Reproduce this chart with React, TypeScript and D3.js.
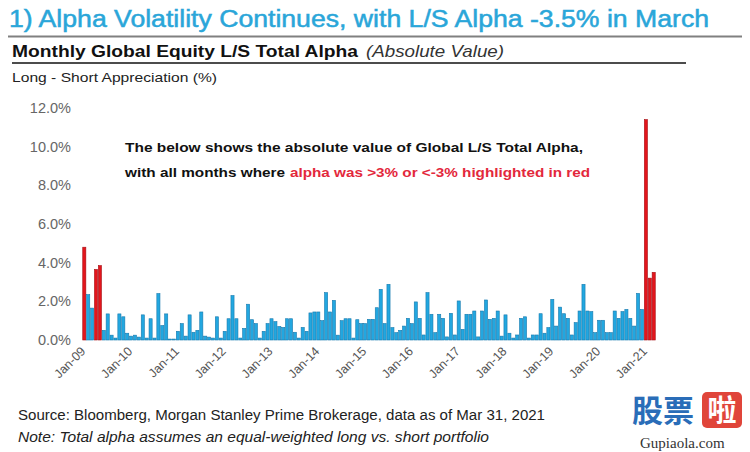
import React from "react";
import * as d3 from "d3";

const values: number[] = [
  4.8, 2.35, 1.65, 3.65, 3.85, 0.5, 1.35, 0.25, 0.1, 1.35, 1.2, 0.35,
  0.2, 0.25, 0.15, 1.3, 0.1, 1.1, 0.1, 2.4, 0.75, 1.35, 0.05, 0.05,
  0.45, 0.85, 0.2, 1.3, 0.4, 0.5, 1.45, 0.2, 0.15, 0.1, 1.2, 0.1,
  0.45, 1.1, 2.3, 1.1, 0.1, 0.6, 1.85, 1.05, 0.85, 0.1, 0.45, 0.85,
  1.1, 0.95, 0.7, 0.65, 1.1, 1.1, 0.4, 0.1, 0.65, 0.45, 1.4, 1.45,
  1.45, 1.0, 2.45, 1.45, 2.05, 0.25, 1.0, 1.1, 1.1, 0.1, 1.05, 0.85,
  0.85, 1.07, 1.07, 1.67, 2.62, 0.85, 2.88, 0.64, 0.38, 0.5, 0.72, 1.12,
  0.85, 1.97, 1.12, 0.26, 2.45, 1.33, 0.38, 1.33, 1.12, 0.16, 1.38, 0.26,
  2.02, 0.55, 1.33, 1.33, 1.5, 0.16, 1.5, 2.07, 1.07, 1.12, 1.5, 0.2,
  1.3, 0.35, 0.1, 0.26, 1.12, 1.2, 0.1, 0.26, 0.26, 1.36, 0.35, 0.64,
  2.1, 0.72, 1.7, 1.36, 1.12, 0.26, 0.9, 1.5, 2.88, 1.5, 1.47, 0.38,
  1.02, 1.02, 0.38, 0.38, 1.5, 1.12, 1.47, 1.58, 1.12, 0.72, 2.41, 1.58,
  11.4, 3.2, 3.5,
];

const yTicks: number[] = [0, 2, 4, 6, 8, 10, 12];
const xTickLabels: string[] = [
  "Jan-09", "Jan-10", "Jan-11", "Jan-12", "Jan-13", "Jan-14", "Jan-15",
  "Jan-16", "Jan-17", "Jan-18", "Jan-19", "Jan-20", "Jan-21",
];
const threshold = 3;

const FONT = "'Liberation Sans', Arial, Helvetica, sans-serif";

export default function App() {
  const x = d3
    .scaleBand<number>()
    .domain(values.map((_, i) => i))
    .range([82.35, 655.65])
    .paddingInner(0.2)
    .paddingOuter(0.1);
  const y = d3.scaleLinear().domain([0, 12]).range([340, 108]);

  return (
    <svg
      width={750}
      height={452}
      style={{ position: "absolute", left: 0, top: 0, background: "#fff" }}
      fontFamily={FONT}
    >
      <rect x={0} y={0} width={750} height={452} fill="#fff" />
      <text x={9} y={27} fontSize={23} fill="#2aa6d9" stroke="#2aa6d9" strokeWidth={0.5} textLength={700} lengthAdjust="spacingAndGlyphs">
        1) Alpha Volatility Continues, with L/S Alpha -3.5% in March
      </text>
      <line x1={8} x2={742} y1={36.5} y2={36.5} stroke="#808080" strokeWidth={2} />
      <text y={57} fontSize={16.5} fill="#111">
        <tspan x={12} fontWeight="bold" textLength={346} lengthAdjust="spacingAndGlyphs">Monthly Global Equity L/S Total Alpha</tspan>
        <tspan x={366} fontStyle="italic" fill="#333" textLength={138} lengthAdjust="spacingAndGlyphs">(Absolute Value)</tspan>
      </text>
      <line x1={12} x2={686} y1={63} y2={63} stroke="#111" strokeWidth={1.5} />
      <text x={12} y={82} fontSize={13.5} fill="#222" textLength={205} lengthAdjust="spacingAndGlyphs">
        Long - Short Appreciation (%)
      </text>

      {yTicks.map((t) => (
        <text
          key={t}
          x={71}
          y={y(t)}
          dy="0.35em"
          textAnchor="end"
          fontSize={14.5}
          fill="#666"
        >
          {t.toFixed(1)}%
        </text>
      ))}

      {values.map((v, i) => {
        const red = Math.abs(v) > threshold;
        return (
          <rect
            key={i}
            x={x(i)!}
            y={y(v)}
            width={x.bandwidth()}
            height={y(0) - y(v)}
            fill={red ? "#e3151c" : "#22a7e0"}
            stroke={red ? "#a50f14" : "#1779ad"}
            strokeWidth={0.6}
          />
        );
      })}

      {xTickLabels.map((lab, k) => {
        const cx = x(k * 12)! + x.bandwidth() / 2;
        return (
          <text
            key={lab}
            transform={`translate(${cx + 2},${352}) rotate(-45)`}
            textAnchor="end"
            fontSize={12.5}
            fill="#555"
          >
            {lab}
          </text>
        );
      })}

      <text x={125} y={152} fontSize={13.5} fontWeight="bold" fill="#111" textLength={458} lengthAdjust="spacingAndGlyphs">
        The below shows the absolute value of Global L/S Total Alpha,
      </text>
      <text y={177} fontSize={13.5} fontWeight="bold" fill="#111">
        <tspan x={125} textLength={160} lengthAdjust="spacingAndGlyphs">with all months where</tspan>
        <tspan x={290} fill="#e3283c" textLength={300} lengthAdjust="spacingAndGlyphs">alpha was &gt;3% or &lt;-3% highlighted in red</tspan>
      </text>

      <text x={18} y={420} fontSize={14} fill="#222" textLength={527} lengthAdjust="spacingAndGlyphs">
        Source: Bloomberg, Morgan Stanley Prime Brokerage, data as of Mar 31, 2021
      </text>
      <text x={18} y={442} fontSize={14} fontStyle="italic" fill="#222" textLength={471} lengthAdjust="spacingAndGlyphs">
        Note: Total alpha assumes an equal-weighted long vs. short portfolio
      </text>

      <g>
        <text x={632} y={422} fontSize={31} fontWeight="bold" fill="#2a6db8" fontFamily="'Noto Sans CJK SC', sans-serif">
          股票
        </text>
        <rect x={702} y={392} width={40} height={36} rx={5} fill="#e0453a" />
        <text x={722} y={421} fontSize={29} fontWeight="bold" fill="#fff" textAnchor="middle" fontFamily="'Noto Sans CJK SC', sans-serif">
          啦
        </text>
        <text x={640} y={448} fontSize={15} fill="#333" fontFamily="'Liberation Serif', 'DejaVu Serif', serif">
          Gupiaola.com
        </text>
      </g>
    </svg>
  );
}
